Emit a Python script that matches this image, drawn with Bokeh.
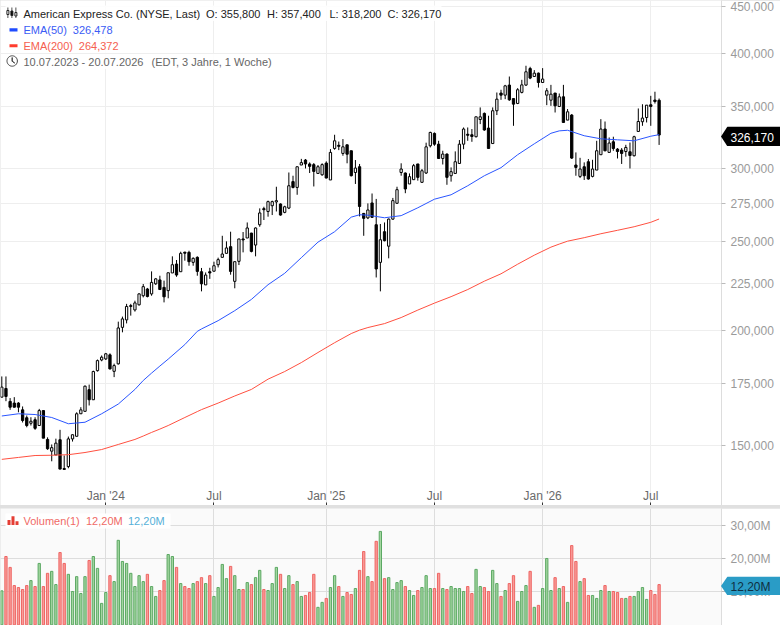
import numpy as np
from bokeh.plotting import figure
from bokeh.layouts import column
from bokeh.models import (ColumnDataSource, FixedTicker, Range1d, Label, BoxAnnotation, PolyAnnotation)
from bokeh.embed import file_html
from bokeh.resources import INLINE

opens = [169.3,173.0,167.5,166.8,166.8,164.0,160.8,158.6,160.0,157.7,
163.7,152.3,147.9,146.5,152.2,141.6,142.3,152.5,153.5,162.4,
163.4,172.5,168.2,180.9,185.8,186.3,188.2,180.6,184.0,201.6,
205.4,212.4,210.6,213.3,218.2,221.9,219.2,224.8,227.0,222.8,
221.0,231.0,236.2,231.7,243.3,243.2,237.2,240.2,231.7,224.2,
231.7,232.0,235.8,240.2,242.6,246.7,226.2,237.8,251.5,252.1,
255.2,247.7,260.6,271.3,269.4,273.3,275.9,274.5,268.8,271.7,
290.3,286.1,302.6,306.4,303.4,302.9,296.3,295.3,304.1,291.5,
315.4,317.9,311.5,318.3,313.6,297.0,301.3,268.1,265.1,275.2,
260.6,237.2,256.1,247.0,264.3,275.0,297.0,296.6,288.6,291.7,
303.4,289.8,296.6,317.5,327.5,318.8,307.6,311.0,294.6,296.3,
303.8,318.8,326.8,326.4,324.8,339.1,344.3,331.9,319.3,346.6,
362.3,360.4,369.6,357.3,353.0,362.9,369.6,385.2,377.6,380.8,
372.0,360.4,355.9,362.3,350.3,358.9,338.6,342.9,302.6,294.1,
301.3,305.1,294.1,298.8,310.5,331.1,312.3,320.7,314.9,314.1,
313.0,312.8,309.7,329.1,337.2,340.8,351.8,356.0,355.8]
closes = [173.6,169.6,165.1,165.1,165.1,159.7,157.7,159.4,156.6,163.7,
152.8,148.8,149.2,150.9,141.4,141.3,152.5,154.1,162.4,164.0,
174.0,168.2,180.5,185.5,187.1,188.7,181.7,183.2,201.3,205.9,
212.4,212.9,214.3,219.2,223.2,217.8,225.6,227.6,221.6,217.6,
231.1,235.8,229.8,242.6,242.7,237.6,239.6,231.9,224.8,229.8,
231.0,235.2,238.8,242.2,245.9,231.9,237.6,251.5,250.9,258.5,
243.8,258.5,268.4,270.6,276.1,276.1,276.8,267.0,272.6,287.3,
286.1,301.3,304.4,303.4,301.6,297.8,301.3,302.9,292.9,312.3,
321.5,317.1,316.7,310.9,294.6,300.3,272.8,264.8,270.4,265.5,
233.3,251.0,250.4,264.3,276.8,284.5,299.6,285.0,293.9,302.1,
293.4,298.3,316.7,328.3,318.8,307.6,311.0,293.4,297.6,305.1,
318.8,331.1,326.0,325.0,341.4,341.4,330.3,315.4,346.6,356.8,
360.4,368.9,356.2,352.4,365.3,369.8,382.1,376.1,380.8,372.0,
375.2,364.4,361.3,350.9,358.9,336.6,345.7,307.9,300.8,299.6,
294.6,292.2,299.6,313.6,331.1,313.6,319.7,315.4,313.0,311.5,
316.2,309.9,324.8,337.4,340.3,351.5,350.3,354.7,326.17]
highs = [178.3,178.3,168.9,169.3,167.2,165.4,161.7,161.0,161.0,164.4,
163.7,153.1,150.4,152.6,156.0,146.3,153.4,154.2,163.0,165.1,
174.3,174.7,180.9,186.0,187.9,189.1,188.9,184.1,204.5,207.1,
213.8,213.8,215.5,219.5,224.7,222.5,231.9,228.1,229.4,226.6,
231.1,240.8,238.6,243.6,243.6,244.2,240.2,240.8,233.9,231.3,
234.0,237.6,240.0,253.5,250.0,256.1,237.6,251.5,255.9,262.1,
255.4,258.9,271.5,272.6,276.8,276.8,286.6,274.9,273.3,297.0,
294.6,301.3,307.3,307.2,304.6,304.1,302.6,303.9,305.4,314.9,
326.4,320.9,322.9,318.3,313.6,306.4,303.4,268.4,274.9,281.8,
278.0,261.1,262.1,264.7,278.7,286.6,303.9,297.0,296.3,303.4,
303.4,299.6,320.0,328.9,328.3,321.5,313.6,311.5,300.8,313.1,
322.1,332.4,332.4,331.1,341.4,349.5,345.1,342.3,349.5,362.8,
365.3,369.8,377.6,357.3,366.8,374.5,387.9,386.9,383.7,381.4,
385.6,366.8,369.8,362.3,361.9,369.8,348.1,343.8,312.3,308.1,
304.6,307.2,306.6,321.5,339.4,337.4,324.2,324.8,315.7,315.7,
318.3,320.1,325.6,348.6,352.3,351.5,359.8,363.5,357.4]
lows = [169.2,167.6,164.0,165.0,163.0,158.9,157.0,157.7,156.0,157.7,
152.8,148.4,144.2,146.5,141.4,141.2,141.7,151.5,153.5,162.4,
163.3,165.8,168.2,180.5,185.2,185.8,181.4,178.0,183.7,199.1,
203.6,207.6,209.7,212.9,217.3,217.3,218.2,224.2,221.6,214.6,
216.8,231.0,228.8,231.7,238.2,235.2,235.2,229.4,220.6,224.2,
227.6,231.9,234.2,240.2,242.6,230.0,222.3,235.6,243.2,252.1,
243.2,240.8,259.3,263.7,265.9,267.0,269.4,266.6,268.2,271.0,
285.4,280.9,302.6,300.0,296.6,286.8,295.9,294.6,292.7,291.5,
314.4,314.1,309.7,303.9,294.1,288.6,266.1,253.5,264.3,265.1,
228.4,220.6,250.0,239.6,263.9,274.5,294.6,282.0,288.6,291.7,
291.0,289.3,295.9,316.2,317.5,307.2,303.0,288.0,290.3,296.3,
303.4,314.8,321.5,320.7,324.2,335.2,329.7,315.4,319.3,342.9,
356.2,356.8,355.3,333.8,352.4,362.0,368.9,375.1,377.6,367.3,
372.0,351.5,350.9,345.1,350.0,336.6,338.6,307.2,294.6,292.9,
291.5,291.7,293.4,298.8,310.3,313.1,312.3,313.6,307.6,303.4,
309.0,300.0,309.2,329.1,333.8,336.6,333.8,352.9,318.2]
volumes = [10.3,20.7,17.4,11.9,11.3,10.7,11.9,13.4,11.6,18.6,
11.6,15.6,16.2,12.2,21.9,18.6,15.3,10.1,14.6,9.5,
14.6,19.5,20.7,17.1,6.5,9.8,14.9,13.1,25.6,19.2,
18.6,15.6,11.6,14.9,13.1,15.3,11.6,8.6,10.4,13.4,
21.3,20.7,17.4,12.5,11.6,11.0,12.5,13.1,14.3,12.5,
14.9,8.6,11.3,18.3,14.0,17.7,14.9,10.7,10.7,12.8,
12.2,14.3,16.5,10.7,10.4,12.5,17.4,15.3,11.0,14.9,
12.2,13.1,8.6,8.9,9.8,15.3,5.3,6.8,8.0,11.3,
14.9,11.6,8.6,9.8,9.2,11.0,16.5,22.2,14.6,13.1,
25.3,28.3,14.0,14.3,10.7,12.8,13.4,11.6,10.4,8.9,
10.4,11.3,14.9,11.0,11.0,15.6,11.0,10.7,11.6,11.0,
11.0,10.1,11.6,9.5,16.8,11.6,11.3,10.1,16.5,12.5,
8.6,10.4,12.5,14.9,7.1,10.1,11.9,16.2,5.3,5.9,
11.0,20.1,10.4,14.3,11.0,11.6,6.8,24.0,19.2,13.1,
14.0,8.9,8.9,8.0,10.4,11.9,10.1,10.1,9.8,8.0,
8.0,8.6,8.6,10.1,11.3,7.7,10.4,9.2,12.2]
ema_weeks = [0,4,8,12,16,20,24,28,32,34,36,38,40,44,47,48,52,56,60,64,68,72,76,80,84,86,88,92,96,100,104,108,112,116,120,124,128,132,134,136,140,144,148,152,156,158]
ema50 = [161.5,162.4,162.1,160.9,158.4,159.0,162.4,166.4,172.6,176.5,179.8,183.0,186.2,193.1,199.6,200.8,205.0,210.2,216.2,224.3,230.8,240.0,249.5,256.1,265.6,267.2,266.9,265.2,266.6,271.9,277.8,280.9,287.3,294.6,300.6,310.5,319.1,327.6,329.6,330.1,325.6,323.1,322.3,321.5,325.2,326.478]
ema200 = [144.9,145.6,146.3,146.4,146.6,147.4,148.5,150.4,152.3,153.6,155.0,156.3,157.7,160.9,163.3,164.1,166.8,169.8,172.6,177.1,180.5,184.6,189.3,194.0,198.5,200.2,201.5,203.5,206.6,210.5,214.2,217.7,221.6,226.3,230.5,236.1,241.5,246.4,248.3,250.1,252.3,254.8,257.0,259.3,262.2,264.372]
price_ticks = [150,175,200,225,250,275,300,350,400,450]
price_labels = ["150,000","175,000","200,000","225,000","250,000","275,000","300,000","350,000","400,000","450,000"]
vol_ticks = [10,20,30]
vol_labels = ["10,00M","20,00M","30,00M"]
time_ticks = [25,51,78,104,130,156]
time_labels = ["Jan '24","Jul","Jan '25","Jul","Jan '26","Jul"]

FONT = "Liberation Sans"
FW, MH, VH = 721, 505, 117
x0, x1 = -0.3125, 173.0

weeks = list(range(len(opens)))
up = [c >= o for o, c in zip(opens, closes)]
src = ColumnDataSource(dict(
    x=weeks, o=opens, h=highs, l=lows, c=closes,
    top=[max(a, b) for a, b in zip(opens, closes)],
    bottom=[min(a, b) for a, b in zip(opens, closes)],
    fill=["#ffffff" if u else "#000000" for u in up],
    vol=volumes,
    vfill=["#a3d6a0" if u else "#f99c98" for u in up],
    vline=["#5ba863" if u else "#ee6563" for u in up],
))

p1 = figure(width=780, height=MH, frame_width=FW, frame_height=MH, x_range=Range1d(x0, x1),
            y_range=Range1d(129.1, 456.7), y_axis_type="log", y_axis_location="right",
            output_backend="svg", toolbar_location=None, min_border_left=0, min_border_top=0,
            min_border_bottom=0, min_border_right=59, outline_line_color=None,
            background_fill_color="#ffffff", border_fill_color="#ffffff")

ax = p1.yaxis[0]
ax.ticker = FixedTicker(ticks=price_ticks)
ax.major_label_overrides = dict(zip(price_ticks, price_labels))

def style_y(ax):
    ax.axis_line_color = "#dddddd"
    ax.major_tick_line_color = "#bbbbbb"
    ax.major_tick_out = 4
    ax.major_tick_in = 0
    ax.minor_tick_out = 0
    ax.minor_tick_in = 0
    ax.major_label_text_color = "#9a9a9a"
    ax.major_label_text_font = FONT
    ax.major_label_text_font_size = "12px"
    ax.major_label_standoff = 5

style_y(ax)
xa = p1.xaxis[0]
xa.ticker = FixedTicker(ticks=time_ticks)
xa.major_label_overrides = dict(zip(time_ticks, time_labels))
xa.axis_line_color = None
xa.major_tick_in = 3
xa.major_tick_out = 0
xa.minor_tick_in = 0
xa.minor_tick_out = 0
xa.major_tick_line_color = "#333333"
xa.major_label_text_color = "#6a6a6a"
xa.major_label_text_font = FONT
xa.major_label_text_font_size = "12px"
xa.major_label_standoff = -17

p1.xgrid[0].ticker = FixedTicker(ticks=time_ticks)
p1.ygrid[0].ticker = FixedTicker(ticks=price_ticks)
p1.xgrid[0].grid_line_color = "#eeeeee"
p1.ygrid[0].grid_line_color = "#eeeeee"
p1.ygrid[0].minor_grid_line_color = None

p1.rect(x=time_ticks, y=[132.7]*len(time_ticks), width=3, height=13, width_units="screen",
        height_units="screen", fill_color="#ffffff", line_color=None, level="underlay")

p1.segment("x", "h", "x", "l", source=src, line_color="#000000", line_width=1)
p1.vbar(x="x", top="top", bottom="bottom", width=0.55, source=src, fill_color="fill", line_color="#000000", line_width=1)
p1.line(ema_weeks, ema200, line_color="#ff5040", line_width=1)
p1.line(ema_weeks, ema50, line_color="#2a55ff", line_width=1)

def row_label(p, text, x, y, color, height=MH, size="11px"):
    p.add_layout(Label(x=x, y=height - y, x_units="screen", y_units="screen", text=text, text_color=color,
                       text_font=FONT, text_font_size=size, text_baseline="middle", text_align="left"))

def box(p, l, r, t, b, color, line=None, height=MH, alpha=1):
    p.add_layout(BoxAnnotation(left=l, right=r, top=height - t, bottom=height - b, left_units="screen",
                               right_units="screen", top_units="screen", bottom_units="screen",
                               fill_color=color, fill_alpha=alpha, line_color=line, line_alpha=1 if line else 0,
                               line_width=1, level="annotation"))

def poly(p, xs, ys, fill, line, height=MH):
    p.add_layout(PolyAnnotation(xs=list(xs), ys=[height - y for y in ys], xs_units="screen", ys_units="screen",
                                fill_color=fill, fill_alpha=1 if fill else 0, line_color=line, line_alpha=1 if line else 0,
                                line_width=1, level="annotation"))

box(p1, 5, 441, 5, 20.5, "#ffffff", alpha=0.85)
box(p1, 5, 116, 21.5, 36.5, "#ffffff", alpha=0.85)
box(p1, 5, 122, 37.5, 52.5, "#ffffff", alpha=0.85)
box(p1, 5, 274, 53.5, 68.5, "#ffffff", alpha=0.85)

for text, x in [("American Express Co. (NYSE, Last)", 23), ("O: 355,800", 205.5), ("H: 357,400", 266.5),
                ("L: 318,200", 329), ("C: 326,170", 387)]:
    row_label(p1, text, x, 13, "#222222")
row_label(p1, "EMA(50)", 23, 29, "#3a5cf5")
row_label(p1, "326,478", 72.3, 29, "#3a5cf5")
row_label(p1, "EMA(200)", 23, 45, "#f5604f")
row_label(p1, "264,372", 78.3, 45, "#f5604f")
row_label(p1, "10.07.2023 - 20.07.2026", 23, 61, "#666666")
row_label(p1, "(EDT, 3 Jahre, 1 Woche)", 151, 61, "#666666")

for cx, t, b, col in [(7, 10, 14, "#ffffff"), (11, 10.5, 15, "#000000"), (15, 12, 15.5, "#ffffff")]:
    box(p1, cx, cx + 0.8, 7, 17.5, "#222222")
    box(p1, cx - 0.6, cx + 1.4, t, b, col, "#222222")
box(p1, 9, 17, 27.7, 31, "#1f4cff")
box(p1, 9, 17, 43.7, 46.7, "#ff3d2e")
ang = np.linspace(0, 2 * np.pi, 30)
poly(p1, 11.7 + 5.2 * np.cos(ang), 60.5 + 5.2 * np.sin(ang), None, "#444444")
poly(p1, [11.7, 11.7, 14.2, 11.7], [57, 60.8, 62.5, 60.8], None, "#444444")

p2 = figure(width=780, height=VH, frame_width=FW, frame_height=VH, x_range=p1.x_range,
            y_range=Range1d(-0.2, 35.24), y_axis_location="right",
            output_backend="svg", toolbar_location=None, min_border_left=0, min_border_top=0,
            min_border_bottom=0, min_border_right=59, outline_line_color=None,
            background_fill_color="#fafafa", border_fill_color="#ffffff")
p2.xaxis.visible = False
p2.xgrid[0].ticker = FixedTicker(ticks=time_ticks)
p2.ygrid[0].ticker = FixedTicker(ticks=vol_ticks)
p2.xgrid[0].grid_line_color = "#dddddd"
p2.ygrid[0].grid_line_color = "#dddddd"
ay = p2.yaxis[0]
ay.ticker = FixedTicker(ticks=vol_ticks)
ay.major_label_overrides = dict(zip(vol_ticks, vol_labels))
style_y(ay)
p2.vbar(x="x", top="vol", bottom=0, width=0.55, source=src, fill_color="vfill", line_color="vline", line_width=1)

box(p2, 5, 170, 5, 20, "#ffffff", height=VH)
box(p2, 7, 10, 11.5, 16.5, "#e53e35", height=VH)
box(p2, 11, 14, 7.7, 16.5, "#e53e35", height=VH)
box(p2, 15, 18, 12.7, 16.5, "#e53e35", height=VH)
row_label(p2, "Volumen(1)", 23, 12.7, "#f06a66", height=VH)
row_label(p2, "12,20M", 85.5, 12.7, "#f06a66", height=VH)
row_label(p2, "12,20M", 127.5, 12.7, "#56b0d8", height=VH)

def tag(text, top, h, fill, color):
    t = figure(width=60, height=h, x_range=Range1d(0, 60), y_range=Range1d(0, h), x_axis_type=None, y_axis_type=None,
               output_backend="svg", toolbar_location=None, min_border=0, outline_line_color=None,
               background_fill_color=None, border_fill_color=None,
               styles={"position": "fixed", "left": "720px", "top": f"{top}px"})
    t.grid.visible = False
    t.patch([0.5, 7, 60, 60, 7], [h / 2, h, h, 0, 0], fill_color=fill, line_color=None)
    t.add_layout(Label(x=10, y=h / 2 - 0.5, x_units="screen", y_units="screen", text=text, text_color=color,
                       text_font=FONT, text_font_size="12px", text_baseline="middle"))
    return t

tag1 = tag("326,170", 126, 20, "#000000", "#ffffff")
tag2 = tag("12,20M", 576, 19, "#2a9cc6", "#0f2f42")

root = column(p1, p2, spacing=3, styles={"position": "fixed", "left": "0px", "top": "0px", "background-color": "#e0e0e0"})
open("out.html", "w").write(file_html([root, tag1, tag2], INLINE))
